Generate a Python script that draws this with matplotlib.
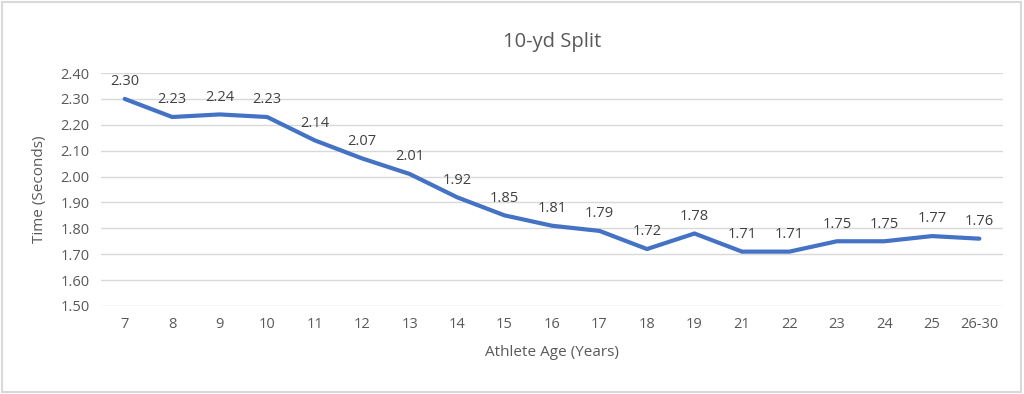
import matplotlib.pyplot as plt
from matplotlib.patches import Rectangle

ages = ["7", "8", "9", "10", "11", "12", "13", "14", "15", "16", "17", "18",
        "19", "21", "22", "23", "24", "25", "26-30"]
split = [2.30, 2.23, 2.24, 2.23, 2.14, 2.07, 2.01, 1.92, 1.85, 1.81, 1.79, 1.72,
         1.78, 1.71, 1.71, 1.75, 1.75, 1.77, 1.76]
yticks = [1.50, 1.60, 1.70, 1.80, 1.90, 2.00, 2.10, 2.20, 2.30, 2.40]

plt.rcParams['font.family'] = ['Open Sans', 'DejaVu Sans']
txt = '#595959'

fig = plt.figure(figsize=(10.24, 3.94), dpi=100)
fig.patches.append(Rectangle((0.002, 0.004), 0.995, 0.99, transform=fig.transFigure,
                             fill=False, edgecolor='#d9d9d9', linewidth=1.5))
ax = fig.add_axes([0.0986, 0.2234, 0.881, 0.5913])

x = list(range(len(ages)))
ax.plot(x, split, color='#4472C4', linewidth=3, solid_joinstyle='round',
        solid_capstyle='round')
for xi, v in zip(x, split):
    ax.annotate(f"{v:.2f}", (xi, v), xytext=(0, 7), textcoords='offset points',
                ha='center', va='bottom', fontsize=10.5, color='#404040')

ax.set_xlim(-0.5, len(ages) - 0.5)
ax.set_ylim(1.50, 2.40)
ax.set_yticks(yticks)
ax.set_yticklabels([f"{t:.2f}" for t in yticks])
ax.set_xticks(x)
ax.set_xticklabels(ages)
ax.tick_params(length=0, labelsize=10.5, colors=txt, pad=8)
ax.grid(axis='y', color='#d9d9d9', linewidth=1)
ax.set_axisbelow(True)
for s in ax.spines.values():
    s.set_visible(False)

ax.set_title("10-yd Split", fontsize=14.5, color=txt, pad=19)
ax.set_xlabel("Athlete Age (Years)", fontsize=11, color=txt, labelpad=9)
ax.set_ylabel("Time (Seconds)", fontsize=11, color=txt, labelpad=10)

fig.savefig("out.png", dpi=100)
